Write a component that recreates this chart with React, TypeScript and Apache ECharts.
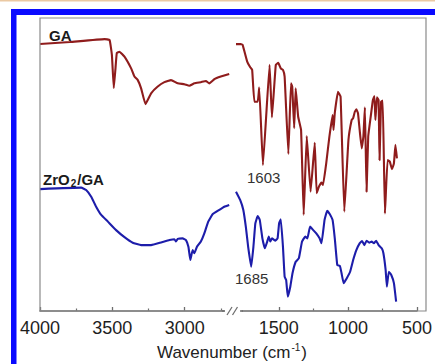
import React, { useEffect, useRef } from "react";
import * as echarts from "echarts";

// ---- data (wavenumber in cm-1, transmittance in arbitrary units) ----
const gaHighWn = [4000, 3793, 3554, 3519, 3503, 3490, 3479, 3469, 3450, 3416, 3370, 3347, 3324, 3301, 3271, 3232, 3186, 3140, 3094, 3048, 3002, 2968, 2933, 2888, 2853, 2830, 2795, 2750, 2692];
const gaHighT = [91.1, 91.8, 92.8, 92.5, 87.4, 76.1, 82.3, 88.1, 88.5, 86.8, 82.8, 80.0, 78.8, 76.0, 70.6, 74.3, 76.6, 78.1, 78.8, 77.7, 77.4, 76.9, 77.7, 78.1, 78.5, 77.7, 79.1, 80.0, 80.9];

const gaLowWn = [1810, 1776, 1762, 1729, 1707, 1693, 1677, 1653, 1642, 1615, 1567, 1550, 1522, 1504, 1486, 1470, 1458, 1431, 1412, 1403, 1389, 1378, 1360, 1339, 1320, 1298, 1270, 1240, 1226, 1210, 1191, 1180, 1157, 1134, 1111, 1104, 1095, 1072, 1053, 1026, 996, 973, 962, 950, 939, 927, 915, 900, 888, 877, 865, 853, 835, 819, 808, 801, 790, 778, 771, 760, 748, 732, 713, 697, 681, 667, 656, 645];
const gaLowT = [91.1, 91.1, 90.8, 85.1, 83.2, 82.3, 71.4, 71.4, 76.3, 49.8, 84.0, 66.1, 84.0, 84.7, 82.8, 82.3, 80.0, 53.6, 77.7, 76.6, 62.4, 76.0, 66.3, 61.8, 32.8, 59.7, 40.7, 57.4, 40.2, 42.4, 43.8, 43.0, 50.4, 59.5, 66.9, 61.8, 67.5, 74.8, 73.1, 33.9, 58.4, 65.2, 65.8, 68.0, 68.8, 67.5, 61.8, 55.5, 59.5, 69.5, 40.7, 59.5, 66.3, 72.0, 73.4, 65.2, 72.9, 72.0, 51.5, 71.4, 71.8, 33.3, 51.5, 51.0, 48.4, 50.4, 56.7, 52.1];

const zrHighWn = [4000, 3715, 3681, 3646, 3612, 3577, 3531, 3474, 3416, 3359, 3301, 3232, 3163, 3105, 3071, 3060, 3048, 3014, 2991, 2974, 2961, 2945, 2933, 2915, 2888, 2864, 2837, 2807, 2761, 2726, 2692];
const zrHighT = [41.6, 42.1, 41.3, 39.0, 35.6, 32.8, 30.5, 27.6, 25.2, 23.3, 22.5, 22.5, 23.4, 24.2, 24.5, 23.7, 24.6, 24.8, 24.2, 21.9, 17.4, 20.8, 19.7, 21.9, 23.7, 26.5, 30.5, 33.0, 34.5, 35.6, 36.2];

const zrLowWn = [1810, 1780, 1757, 1739, 1722, 1700, 1684, 1670, 1653, 1638, 1619, 1601, 1584, 1573, 1562, 1550, 1527, 1509, 1498, 1486, 1470, 1458, 1447, 1435, 1417, 1401, 1378, 1355, 1332, 1309, 1293, 1274, 1251, 1229, 1205, 1191, 1169, 1150, 1134, 1111, 1095, 1077, 1058, 1046, 1031, 1008, 984, 962, 939, 915, 897, 881, 865, 846, 828, 812, 796, 778, 755, 743, 727, 718, 704, 686, 667, 651];
const zrLowT = [40.7, 37.9, 34.5, 28.8, 21.9, 15.1, 21.9, 29.9, 32.4, 31.1, 24.8, 21.4, 23.7, 25.4, 23.7, 24.8, 24.0, 24.8, 29.9, 31.3, 21.9, 11.7, 10.6, 4.9, 8.3, 12.9, 16.8, 18.0, 23.7, 25.4, 24.8, 28.8, 27.6, 26.5, 24.8, 23.1, 31.1, 34.2, 33.3, 31.1, 24.8, 15.7, 15.4, 12.9, 9.5, 11.2, 13.4, 17.4, 20.8, 23.1, 23.9, 22.5, 24.0, 23.3, 23.7, 23.1, 24.0, 22.5, 21.4, 19.7, 14.0, 8.3, 13.4, 12.3, 9.5, 3.2];

const highRange = [2690, 4000];
const lowRange = [500, 1810];
const highMajorTicks = [4000, 3500, 3000];
const highMinorTicks = [3750, 3250, 2750];
const lowMajorTicks = [1500, 1000, 500];
const lowMinorTicks = [1250, 750];

const sampleNames = ["GA", "ZrO2/GA"];
const peakLabels = ["1603", "1685"];

const FONT = "'Liberation Sans', Arial, Helvetica, sans-serif";
const GA_COLOR = "#8f1c1c";
const ZR_COLOR = "#1d1daa";
const AXIS_COLOR = "#6e6e6e";

const pairs = (xs: number[], ys: number[]) => xs.map((x, i) => [x, ys[i]]);

export default function App() {
  const ref = useRef<HTMLDivElement>(null);
  useEffect(() => {
    if (!ref.current) return;
    const chart = echarts.init(ref.current, null, { renderer: "svg" });

    const majorAxis = (gridIndex: number, range: number[], ticks: number[]) => ({
      type: "value",
      gridIndex,
      min: range[0],
      max: range[1],
      inverse: true,
      axisLine: { show: true, onZero: false, lineStyle: { color: AXIS_COLOR, width: 1.5 } },
      axisTick: { show: true, inside: true, length: 4, customValues: ticks, lineStyle: { color: AXIS_COLOR, width: 1.3 } },
      axisLabel: {
        show: true,
        customValues: ticks,
        formatter: (v: number) => String(v),
        margin: 8,
        color: "#1e1e1e",
        fontSize: 18,
        fontFamily: FONT,
        showMinLabel: true,
        showMaxLabel: true,
      },
      splitLine: { show: false },
    });
    const minorAxis = (gridIndex: number, range: number[], ticks: number[]) => ({
      type: "value",
      gridIndex,
      min: range[0],
      max: range[1],
      inverse: true,
      position: "bottom",
      axisLine: { show: false },
      axisTick: { show: true, inside: true, length: 2.5, customValues: ticks, lineStyle: { color: AXIS_COLOR, width: 1.2 } },
      axisLabel: { show: false },
      splitLine: { show: false },
    });
    const yAxis = (gridIndex: number) => ({
      type: "value",
      gridIndex,
      min: 0,
      max: 100,
      show: false,
    });
    const line = (name: string, xi: number, data: number[][], color: string) => ({
      type: "line",
      name,
      xAxisIndex: xi,
      yAxisIndex: xi % 2,
      data,
      showSymbol: false,
      symbol: "none",
      smooth: 0.1,
      lineStyle: { color, width: 2.1 },
      z: 3,
    });

    const gz = 50;
    chart.setOption({
      animation: false,
      backgroundColor: "#ffffff",
      grid: [
        { left: 40, width: 189.5, top: 18, bottom: 53 },
        { left: 236, right: 9, top: 18, bottom: 53 },
      ],
      xAxis: [
        majorAxis(0, highRange, highMajorTicks),
        majorAxis(1, lowRange, lowMajorTicks),
        minorAxis(0, highRange, highMinorTicks),
        minorAxis(1, lowRange, lowMinorTicks),
      ],
      yAxis: [yAxis(0), yAxis(1)],
      series: [
        line(sampleNames[0], 0, pairs(gaHighWn, gaHighT), GA_COLOR),
        line(sampleNames[0], 1, pairs(gaLowWn, gaLowT), GA_COLOR),
        line(sampleNames[1], 0, pairs(zrHighWn, zrHighT), ZR_COLOR),
        line(sampleNames[1], 1, pairs(zrLowWn, zrLowT), ZR_COLOR),
      ],
      graphic: [
        // outer figure decoration
        { type: "rect", z: gz, silent: true, shape: { x: 0, y: 0, width: 435, height: 1.5 }, style: { fill: "#ebc9a3" } },
        { type: "rect", z: gz, silent: true, shape: { x: 11, y: 9, width: 430, height: 6 }, style: { fill: "#0a0aff" } },
        { type: "rect", z: gz, silent: true, shape: { x: 11, y: 9, width: 5.5, height: 360 }, style: { fill: "#0a0aff" } },
        // plot frame
        { type: "rect", z: gz, silent: true, shape: { x: 40, y: 18, width: 386, height: 293 }, style: { fill: "none", stroke: "#8a8a8a", lineWidth: 1.2 } },
        // axis break
        { type: "rect", z: gz + 1, silent: true, shape: { x: 224.5, y: 308, width: 17, height: 7 }, style: { fill: "#ffffff" } },
        { type: "line", z: gz + 2, silent: true, shape: { x1: 222, y1: 311, x2: 225, y2: 311 }, style: { stroke: AXIS_COLOR, lineWidth: 1.5 } },
        { type: "line", z: gz + 2, silent: true, shape: { x1: 227, y1: 315, x2: 232, y2: 307 }, style: { stroke: AXIS_COLOR, lineWidth: 1.3 } },
        { type: "line", z: gz + 2, silent: true, shape: { x1: 232.5, y1: 315, x2: 237.5, y2: 307 }, style: { stroke: AXIS_COLOR, lineWidth: 1.3 } },
        { type: "line", z: gz + 2, silent: true, shape: { x1: 240, y1: 311, x2: 243, y2: 311 }, style: { stroke: AXIS_COLOR, lineWidth: 1.5 } },
        // texts
        {
          type: "text", z: gz + 3, x: 49, y: 35,
          style: { text: sampleNames[0], fill: "#1a1a1a", fontFamily: FONT, fontSize: 15, fontWeight: "bold", textVerticalAlign: "middle" },
        },
        {
          type: "text", z: gz + 3, x: 43, y: 179,
          style: {
            text: "{a|ZrO}{sub|2}{a|/GA}",
            fill: "#1a1a1a",
            textVerticalAlign: "middle",
            rich: {
              a: { fontFamily: FONT, fontSize: 15, fontWeight: "bold", fill: "#1a1a1a", lineHeight: 18 },
              sub: { fontFamily: FONT, fontSize: 10, fontWeight: "bold", fill: "#1a1a1a", lineHeight: 18, padding: [8, 1, 0, 1] },
            },
          },
        },
        {
          type: "text", z: gz + 3, x: 247, y: 177,
          style: { text: peakLabels[0], fill: "#333", fontFamily: FONT, fontSize: 15, textVerticalAlign: "middle" },
        },
        {
          type: "text", z: gz + 3, x: 235, y: 278,
          style: { text: peakLabels[1], fill: "#333", fontFamily: FONT, fontSize: 15, textVerticalAlign: "middle" },
        },
        {
          type: "text", z: gz + 3, x: 232, y: 352,
          style: {
            text: "{a|Wavenumber (cm}{sup|-1}{a|)}",
            textAlign: "center",
            textVerticalAlign: "middle",
            rich: {
              a: { fontFamily: FONT, fontSize: 17, fill: "#222", lineHeight: 20 },
              sup: { fontFamily: FONT, fontSize: 10, fill: "#222", lineHeight: 20, padding: [0, 1, 9, 1] },
            },
          },
        },
      ],
    });
    return () => chart.dispose();
  }, []);
  return <div ref={ref} style={{ position: "absolute", left: 0, top: 0, width: 435, height: 364 }} />;
}
